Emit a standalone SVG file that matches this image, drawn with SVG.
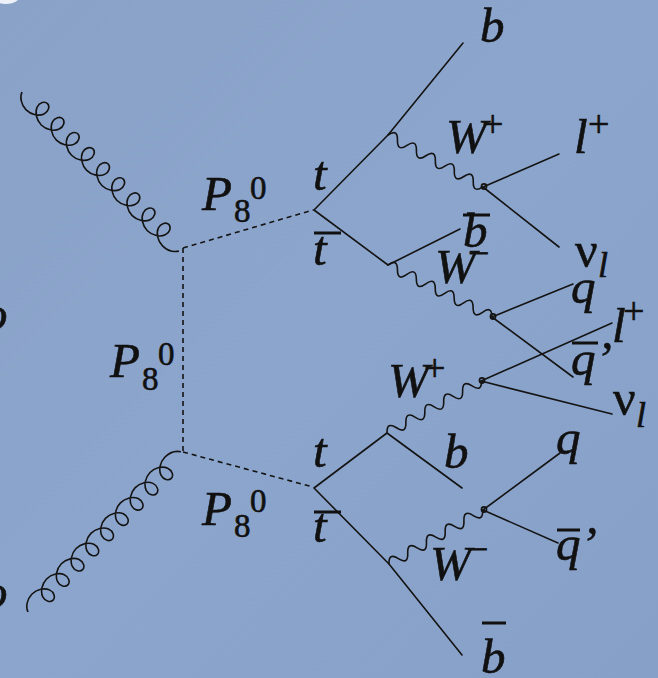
<svg xmlns="http://www.w3.org/2000/svg" xmlns:xlink="http://www.w3.org/1999/xlink" width="658" height="678" viewBox="0 0 658 678">
<style>
.ln{stroke:#141414;stroke-width:1.6;fill:none;stroke-linecap:round;stroke-linejoin:round}
.dash{stroke-dasharray:5 4;stroke-linecap:butt}
.gl{stroke:#141414;stroke-width:1.6;fill:none}
.t{font-family:'Liberation Serif','Times New Roman',serif;fill:#111;stroke:#111;stroke-width:0.6}
.it{font-style:italic;font-size:49px}
.sub{font-style:normal;font-size:33px}
.sg{font-style:normal;font-size:38px}
.nu{font-style:normal;font-size:50px}
.li{font-style:italic;font-size:36px}
.bar{fill:#111}
</style>
<defs>
<linearGradient id="bg" x1="0" y1="0" x2="1" y2="1">
<stop offset="0" stop-color="#8aa2c8"/>
<stop offset="0.5" stop-color="#8ca5cc"/>
<stop offset="1" stop-color="#87a0c8"/>
</linearGradient>
<path id="gluon" vector-effect="non-scaling-stroke" d="M0,0 c 1.75,5.24 8.28,10 15.26,10 c 6.98,0 13.5,-4.76 15.25,-10 c 1.75,-5.24 -1.26,-10 -4.75,-10 c -3.49,0 -6.51,4.76 -4.76,10 c 1.75,5.24 8.28,10 15.26,10 c 6.98,0 13.5,-4.76 15.25,-10 c 1.75,-5.24 -1.26,-10 -4.75,-10 c -3.49,0 -6.51,4.76 -4.76,10 c 1.75,5.24 8.28,10 15.26,10 c 6.98,0 13.5,-4.76 15.25,-10 c 1.75,-5.24 -1.26,-10 -4.75,-10 c -3.49,0 -6.51,4.76 -4.76,10 c 1.75,5.24 8.28,10 15.26,10 c 6.98,0 13.5,-4.76 15.25,-10 c 1.75,-5.24 -1.26,-10 -4.75,-10 c -3.49,0 -6.51,4.76 -4.76,10 c 1.75,5.24 8.28,10 15.26,10 c 6.98,0 13.5,-4.76 15.25,-10 c 1.75,-5.24 -1.26,-10 -4.75,-10 c -3.49,0 -6.51,4.76 -4.76,10 c 1.75,5.24 8.28,10 15.26,10 c 6.98,0 13.5,-4.76 15.25,-10 c 1.75,-5.24 -1.26,-10 -4.75,-10 c -3.49,0 -6.51,4.76 -4.76,10 c 1.75,5.24 8.28,10 15.26,10 c 6.98,0 13.5,-4.76 15.25,-10 c 1.75,-5.24 -1.26,-10 -4.75,-10 c -3.49,0 -6.51,4.76 -4.76,10 c 1.75,5.24 8.28,10 15.26,10 c 6.98,0 13.5,-4.76 15.25,-10 c 1.75,-5.24 -1.26,-10 -4.75,-10 c -3.49,0 -6.51,4.76 -4.76,10 c 1.75,5.24 8.28,10 15.26,10 c 6.98,0 13.5,-4.76 15.25,-10 c 1.75,-5.24 -1.26,-10 -4.75,-10 c -3.49,0 -6.51,4.76 -4.76,10 c 1.75,5.24 8.28,10 15.26,10 c 7,0 12,-3 15,-8"/>
<path id="w10" d="M0,0 c 3.6,-7 7.2,-7 10.8,0 s 7.2,7 10.8,0 s 7.2,-7 10.8,0 s 7.2,7 10.8,0 s 7.2,-7 10.8,0 s 7.2,7 10.8,0 s 7.2,-7 10.8,0 s 7.2,7 10.8,0 s 7.2,-7 10.8,0 s 7.2,7 10.8,0"/>
<path id="w11" d="M0,0 c 3.52,-7 7.05,-7 10.57,0 s 7.05,7 10.57,0 s 7.05,-7 10.57,0 s 7.05,7 10.57,0 s 7.05,-7 10.57,0 s 7.05,7 10.57,0 s 7.05,-7 10.57,0 s 7.05,7 10.57,0 s 7.05,-7 10.57,0 s 7.05,7 10.57,0 s 7.05,-7 10.57,0"/>
</defs>
<rect x="0" y="0" width="658" height="678" fill="url(#bg)"/>
<ellipse cx="6" cy="-3" rx="13" ry="7" fill="#eef2f8"/>
<text class="t it" x="-17" y="330">o</text>
<text class="t it" x="-17" y="608">o</text>

<g id="connectors">
  <use xlink:href="#gluon" class="gl" transform="translate(22,92) rotate(44.9) scale(1.019,0.98)"/>
  <use xlink:href="#gluon" class="gl" transform="translate(28,612) rotate(-45.84) scale(1.01,-0.97)"/>
  <line class="ln dash" x1="183" y1="248" x2="313" y2="210"/>
  <line class="ln dash" x1="183" y1="248" x2="183" y2="452"/>
  <line class="ln dash" x1="183" y1="452" x2="313" y2="487"/>
  <polyline class="ln" points="314,210 388,135 463,43"/>
  <polyline class="ln" points="314,210 388,265 460,229"/>
  <use xlink:href="#w10" class="ln" transform="translate(388,135) rotate(28.7)"/>
  <use xlink:href="#w11" class="ln" transform="translate(388,265) rotate(26.57)"/>
  <line class="ln" x1="483" y1="187" x2="559" y2="154"/>
  <line class="ln" x1="483" y1="187" x2="559" y2="247"/>
  <line class="ln" x1="492" y1="317" x2="573" y2="284"/>
  <line class="ln" x1="492" y1="317" x2="573" y2="377"/>
  <polyline class="ln" points="462,488 387,433 314,488 389,564 462,655"/>
  <use xlink:href="#w10" class="ln" transform="translate(387,433) rotate(-28.95)"/>
  <use xlink:href="#w10" class="ln" transform="translate(389,564) rotate(-29.87)"/>
  <line class="ln" x1="481" y1="381" x2="612" y2="323"/>
  <line class="ln" x1="481" y1="381" x2="612" y2="414"/>
  <line class="ln" x1="483" y1="510" x2="560" y2="453"/>
  <line class="ln" x1="483" y1="510" x2="558" y2="543"/>
  <circle class="ln" cx="484" cy="186.5" r="2.6"/>
  <circle class="ln" cx="493" cy="316.5" r="2.6"/>
  <circle class="ln" cx="482" cy="380.5" r="2.6"/>
  <circle class="ln" cx="484" cy="509.5" r="2.6"/>
</g>

<g id="p8-top"><text class="t it" x="202" y="210">P</text><text class="t sub" x="234" y="222">8</text><text class="t sub" x="250" y="199">0</text></g>
<g id="p8-mid"><text class="t it" x="110" y="377">P</text><text class="t sub" x="142" y="390">8</text><text class="t sub" x="158" y="365">0</text></g>
<g id="p8-bot"><text class="t it" x="202" y="525">P</text><text class="t sub" x="234" y="537">8</text><text class="t sub" x="250" y="512">0</text></g>

<g id="t1"><text class="t it" x="313" y="190">t</text></g>
<g id="tbar1"><rect class="bar" x="314" y="231.5" width="27" height="3"/><text class="t it" x="313" y="265">t</text></g>
<g id="b1"><text class="t it" x="480" y="42">b</text></g>
<g id="wplus1"><text class="t it" x="446" y="153">W</text><text class="t sg" x="482" y="137">+</text></g>
<g id="lplus1"><text class="t it" x="574" y="153">l</text><text class="t sg" x="588" y="137">+</text></g>
<g id="nu1"><text class="t nu" x="575" y="267">ν</text><text class="t li" x="598" y="277">l</text></g>
<g id="bbar1"><rect class="bar" x="463" y="213.5" width="27" height="3"/><text class="t it" x="463" y="247">b</text></g>
<g id="wminus1"><text class="t it" x="435" y="283">W</text><text class="t sg" x="468" y="266">−</text></g>
<g id="q1"><text class="t it" x="571" y="303">q</text></g>
<g id="qbar1"><rect class="bar" x="572" y="341.5" width="26" height="3"/><text class="t it" x="571" y="375">q’</text></g>

<g id="t2"><text class="t it" x="313" y="467">t</text></g>
<g id="tbar2"><rect class="bar" x="314" y="510.5" width="27" height="3"/><text class="t it" x="313" y="542">t</text></g>
<g id="wplus2"><text class="t it" x="388" y="397">W</text><text class="t sg" x="424" y="381">+</text></g>
<g id="lplus2"><text class="t it" x="612" y="342">l</text><text class="t sg" x="623" y="324">+</text></g>
<g id="nu2"><text class="t nu" x="613" y="415">ν</text><text class="t li" x="636" y="427">l</text></g>
<g id="b2"><text class="t it" x="444" y="468">b</text></g>
<g id="q2"><text class="t it" x="556" y="454">q</text></g>
<g id="qbar2"><rect class="bar" x="557" y="528.5" width="23" height="3"/><text class="t it" x="556" y="560">q’</text></g>
<g id="wminus2"><text class="t it" x="430" y="580">W</text><text class="t sg" x="467" y="562">−</text></g>
<g id="bbar2"><rect class="bar" x="482" y="621.5" width="24" height="3"/><text class="t it" x="481" y="673">b</text></g>
</svg>
